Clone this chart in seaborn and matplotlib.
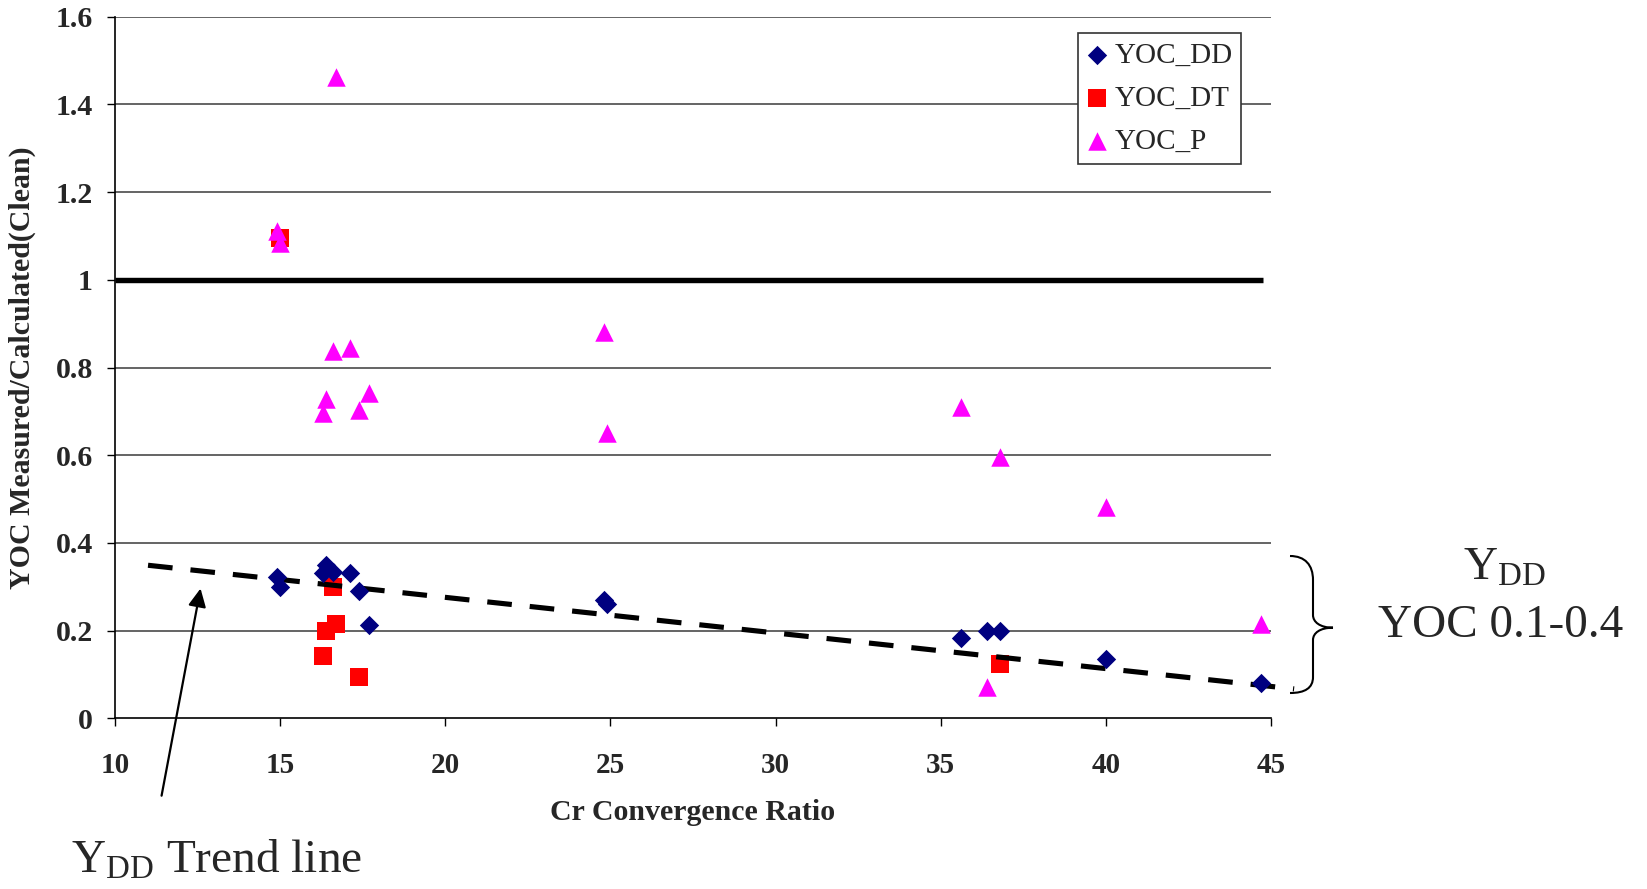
import numpy as np
import pandas as pd
import matplotlib
matplotlib.use("Agg")
import matplotlib.pyplot as plt
from matplotlib.path import Path
from matplotlib.patches import PathPatch
import seaborn as sns

# --- data -------------------------------------------------------------
dd_x = [14.9, 15.0, 16.3, 16.4, 16.6, 17.1, 17.4, 17.7, 24.8, 24.9, 35.6, 36.4, 36.8, 40.0, 44.7]
dd_y = [0.323, 0.299, 0.332, 0.349, 0.333, 0.332, 0.291, 0.213, 0.270, 0.260, 0.184, 0.199, 0.199, 0.135, 0.080]

dt_x = [15.0, 16.3, 16.4, 16.6, 16.7, 17.4, 36.8]
dt_y = [1.095, 0.143, 0.198, 0.299, 0.215, 0.095, 0.124]

p_x = [14.9, 15.0, 16.3, 16.4, 16.6, 16.7, 17.1, 17.4, 17.7, 24.8, 24.9, 35.6, 36.4, 36.8, 40.0, 44.7]
p_y = [1.112, 1.083, 0.697, 0.728, 0.838, 1.463, 0.845, 0.703, 0.741, 0.881, 0.651, 0.711, 0.071, 0.595, 0.481, 0.214]

# YDD trend line (end points) and the unity reference level
trend_x = [11.0, 45.7]
trend_y = [0.349, 0.067]
unity_level = 1.0

x_ticks = [10, 15, 20, 25, 30, 35, 40, 45]
y_ticks = [0, 0.2, 0.4, 0.6, 0.8, 1.0, 1.2, 1.4, 1.6]
y_tick_labels = ["0", "0.2", "0.4", "0.6", "0.8", "1", "1.2", "1.4", "1.6"]

series_names = ["YOC_DD", "YOC_DT", "YOC_P"]

# --- style ------------------------------------------------------------
sns.set_theme(style="white")
plt.rcParams["font.family"] = ["Liberation Serif", "DejaVu Serif"]
plt.rcParams["mathtext.fontset"] = "custom"
plt.rcParams["mathtext.rm"] = "Liberation Serif"
plt.rcParams["mathtext.it"] = "Liberation Serif:italic"
plt.rcParams["mathtext.bf"] = "Liberation Serif:bold"

W, H = 1647, 889
fig = plt.figure(figsize=(W / 100, H / 100), dpi=100)
fig.patch.set_facecolor("white")

ax_l, ax_r, ax_b, ax_t = 115, 1271, 718.3, 16.7
ax = fig.add_axes([ax_l / W, (H - ax_b) / H, (ax_r - ax_l) / W, (ax_b - ax_t) / H])
ax.set_facecolor("white")

# horizontal grid
for yv in y_ticks[1:]:
    if yv != unity_level:
        ax.axhline(yv, color="#4a4a4a", lw=1.2, zorder=1)

# unity line
ax.hlines(unity_level, x_ticks[0], max(dd_x) + 0.05, color="black", lw=3.9, zorder=2)

df_dd = pd.DataFrame({"x": dd_x, "y": dd_y})
df_dt = pd.DataFrame({"x": dt_x, "y": dt_y})
df_p = pd.DataFrame({"x": p_x, "y": p_y})

sns.scatterplot(data=df_dt, x="x", y="y", marker="s", color="#FF0000", s=180,
                linewidth=0, ax=ax, zorder=3, label=series_names[1])

# trend line
ax.plot(trend_x, trend_y, color="black", lw=3.7, linestyle=(0, (4.8, 3.5)),
        dash_capstyle="butt", zorder=4, clip_on=False)

sns.scatterplot(data=df_dd, x="x", y="y", marker="D", color="#000080", s=97,
                linewidth=0, ax=ax, zorder=5, label=series_names[0])
sns.scatterplot(data=df_p, x="x", y="y", marker="^", color="#FF00FF", s=177,
                linewidth=0, ax=ax, zorder=6, label=series_names[2])

ax.set_xlim(10, 45)
ax.set_ylim(0, 1.6)
ax.set_xticks(x_ticks)
ax.set_xticklabels([str(v) for v in x_ticks], fontsize=21, fontweight="bold")
ax.set_yticks(y_ticks)
ax.set_yticklabels(y_tick_labels, fontsize=21.5, fontweight="bold")
ax.tick_params(axis="x", direction="out", length=6, width=1, color="black", pad=18, bottom=True)
ax.tick_params(axis="y", direction="out", length=6, width=1, color="black", pad=10, left=True)

for side in ["top", "right"]:
    ax.spines[side].set_visible(False)
for side in ["left", "bottom"]:
    ax.spines[side].set_color("black")
    ax.spines[side].set_linewidth(1.2)

ax.set_xlabel("Cr Convergence Ratio", fontsize=21.5, fontweight="bold")
ax.set_ylabel("YOC Measured/Calculated(Clean)", fontsize=21.5, fontweight="bold")
ax.xaxis.set_label_coords(0.5, -94.7 / (ax_b - ax_t))
ax.xaxis.label.set_va("center")
ax.yaxis.set_label_coords(-92.5 / (ax_r - ax_l), 0.5)
ax.yaxis.label.set_va("center")

# legend
handles, labels = ax.get_legend_handles_labels()
order = [labels.index(n) for n in series_names]
leg = ax.legend([handles[i] for i in order], [labels[i] for i in order],
                loc="upper left", bbox_to_anchor=(1078 / W, 1 - 33.3 / H),
                bbox_transform=fig.transFigure, borderaxespad=0,
                fontsize=21, frameon=True, fancybox=False, shadow=False,
                edgecolor="#333333", framealpha=1, handlelength=0.7,
                handletextpad=0.25, labelspacing=0.58, borderpad=0.3,
                markerscale=1.0)
leg.get_frame().set_linewidth(1.2)
leg.set_zorder(10)

# arrow pointing at the trend line
ax.annotate("", xy=(12.59, 0.296), xytext=(11.41, -0.1765),
            xycoords="data", textcoords="data", annotation_clip=False,
            arrowprops=dict(arrowstyle="-|>,head_length=0.55,head_width=0.27",
                            mutation_scale=20, lw=1.6, color="black",
                            shrinkA=0, shrinkB=0))

fig.text(71 / W, (H - 873) / H, r"Y$_{\mathrm{DD}}$ Trend line", fontsize=34,
         ha="left", va="baseline")

# curly brace with the YDD range note
def fx(px):
    return px / W

def fy(py):
    return (H - py) / H

pts = [(1290, 556), (1305, 556), (1313, 565), (1313, 580),
       (1313, 615),
       (1313, 622), (1320, 627.7), (1333, 627.7),
       (1320, 627.7), (1313, 633), (1313, 640),
       (1313, 677),
       (1313, 688), (1305, 693), (1290, 693)]
codes = [Path.MOVETO, Path.CURVE4, Path.CURVE4, Path.CURVE4,
         Path.LINETO,
         Path.CURVE4, Path.CURVE4, Path.CURVE4,
         Path.CURVE4, Path.CURVE4, Path.CURVE4,
         Path.LINETO,
         Path.CURVE4, Path.CURVE4, Path.CURVE4]
brace = Path([(fx(a), fy(b)) for a, b in pts], codes)
fig.add_artist(PathPatch(brace, transform=fig.transFigure, facecolor="none",
                         edgecolor="black", lw=1.5))

fig.text(1504 / W, fy(580), r"Y$_{\mathrm{DD}}$", fontsize=34, ha="center", va="baseline")
fig.text(1501 / W, fy(637), "YOC 0.1-0.4", fontsize=34, ha="center", va="baseline")

fig.savefig("out.png", dpi=100, facecolor="white")
